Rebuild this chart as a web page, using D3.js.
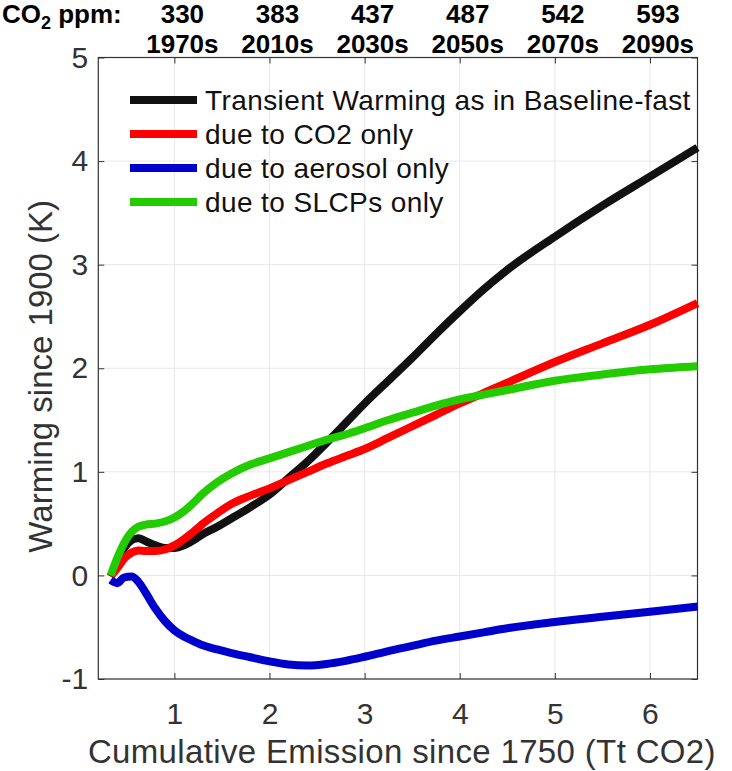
<!DOCTYPE html>
<html><head><meta charset="utf-8">
<script src="https://cdn.jsdelivr.net/npm/d3@7"></script>
<style>body{margin:0;background:#fff}svg{display:block}</style>
</head><body><svg id="c" width="732" height="771"></svg>
<script>
// ---- data ----
const emission    = [0.33,0.40,0.47,0.55,0.62,0.70,0.80,0.90,1.00,1.10,1.20,1.30,1.45,1.60,1.80,2.00,2.20,2.40,2.60,2.80,3.00,3.25,3.50,3.75,4.00,4.25,4.50,5.00,5.50,6.00,6.50];
const transient   = [-0.01,0.12,0.26,0.34,0.36,0.33,0.29,0.265,0.265,0.29,0.34,0.40,0.47,0.55,0.66,0.78,0.94,1.10,1.28,1.47,1.66,1.88,2.10,2.33,2.55,2.76,2.95,3.27,3.57,3.85,4.13];
const co2Only     = [-0.01,0.07,0.16,0.22,0.24,0.235,0.235,0.25,0.29,0.35,0.42,0.50,0.60,0.69,0.77,0.84,0.92,1.00,1.08,1.15,1.22,1.33,1.44,1.55,1.66,1.76,1.86,2.06,2.24,2.42,2.63];
const aerosolOnly = [-0.045,-0.075,-0.02,-0.01,-0.06,-0.17,-0.32,-0.44,-0.53,-0.59,-0.635,-0.675,-0.715,-0.75,-0.79,-0.83,-0.86,-0.87,-0.855,-0.825,-0.785,-0.73,-0.68,-0.63,-0.59,-0.55,-0.51,-0.45,-0.40,-0.35,-0.30];
const slcpOnly    = [0.0,0.17,0.31,0.42,0.47,0.49,0.50,0.52,0.56,0.62,0.70,0.79,0.90,0.985,1.07,1.13,1.19,1.25,1.31,1.36,1.42,1.50,1.57,1.64,1.70,1.745,1.79,1.88,1.94,1.99,2.02];
const seriesNames = ["Transient Warming as in Baseline-fast","due to CO2 only","due to aerosol only","due to SLCPs only"];
const seriesColors = ["#111111","#ff0000","#0000cc","#22cc00"];
const xTicks = [1,2,3,4,5,6];
const yTicks = [-1,0,1,2,3,4,5];
const ppmLabels = ["330","383","437","487","542","593"];
const decadeLabels = ["1970s","2010s","2030s","2050s","2070s","2090s"];
const xLabel = "Cumulative Emission since 1750 (Tt CO2)";
const yLabel = "Warming since 1900 (K)";

// ---- layout ----
const L = 98.3, R = 697.5, T = 57.5, B = 679;
const x = d3.scaleLinear([0.2, 6.5], [L, R]);
const y = d3.scaleLinear([-1, 5], [B, T]);
const svg = d3.select("#c");
const font = "'Liberation Sans', Arial, Helvetica, sans-serif";
const axisCol = "#333333";

// grid
const grid = svg.append("g").attr("stroke", "#e8e8e8").attr("stroke-width", 1);
grid.selectAll(".gx").data(xTicks).join("line")
  .attr("x1", d => x(d)).attr("x2", d => x(d)).attr("y1", T).attr("y2", B);
grid.selectAll(".gy").data(yTicks).join("line")
  .attr("x1", L).attr("x2", R).attr("y1", d => y(d)).attr("y2", d => y(d));

// axes
function styleAxis(g) {
  g.select(".domain").remove();
  g.selectAll(".tick line").attr("stroke", axisCol);
  g.selectAll(".tick text").attr("fill", axisCol).attr("font-family", font).attr("font-size", 30);
}
svg.append("g").attr("transform", `translate(0,${B})`)
  .call(d3.axisBottom(x).tickValues(xTicks).tickSizeInner(-6).tickSizeOuter(0).tickPadding(24).tickFormat(d => String(d)))
  .call(styleAxis);
svg.append("g").attr("transform", `translate(${L},0)`)
  .call(d3.axisLeft(y).tickValues(yTicks).tickSizeInner(-6).tickSizeOuter(0).tickPadding(10).tickFormat(d => String(d)))
  .call(styleAxis);
svg.append("g").attr("transform", `translate(0,${T})`)
  .call(d3.axisTop(x).tickValues(xTicks).tickSizeInner(-6).tickSizeOuter(0).tickFormat(() => ""))
  .call(styleAxis);
svg.append("g").attr("transform", `translate(${R},0)`)
  .call(d3.axisRight(y).tickValues(yTicks).tickSizeInner(-6).tickSizeOuter(0).tickFormat(() => ""))
  .call(styleAxis);
svg.append("rect").attr("x", L).attr("y", T).attr("width", R - L).attr("height", B - T)
  .attr("fill", "none").attr("stroke", axisCol).attr("stroke-width", 1.2);

// lines
const series = [transient, co2Only, aerosolOnly, slcpOnly];
const line = d3.line().x((d, i) => x(emission[i])).y(d => y(d)).curve(d3.curveMonotoneX);
series.forEach((s, k) => {
  svg.append("path").attr("d", line(s)).attr("fill", "none")
    .attr("stroke", seriesColors[k]).attr("stroke-width", 8).attr("stroke-linejoin", "round");
});

// legend
const leg = svg.append("g");
seriesNames.forEach((n, k) => {
  const ly = 100 + k * 34;
  leg.append("line").attr("x1", 130).attr("x2", 197).attr("y1", ly).attr("y2", ly)
    .attr("stroke", seriesColors[k]).attr("stroke-width", 8);
  leg.append("text").attr("x", 205).attr("y", ly).attr("dy", "0.36em")
    .attr("font-family", font).attr("font-size", 28).attr("letter-spacing", 0.4).attr("fill", "#111").text(n);
});

// axis labels
svg.append("text").attr("x", (L + R) / 2 + 4).attr("y", 763).attr("text-anchor", "middle")
  .attr("font-family", font).attr("font-size", 33).attr("letter-spacing", 0.35).attr("fill", axisCol).text(xLabel);
svg.append("text").attr("transform", `translate(52,${(T + B) / 2 + 8}) rotate(-90)`).attr("text-anchor", "middle")
  .attr("font-family", font).attr("font-size", 33).attr("fill", axisCol).text(yLabel);

// top labels
const topG = svg.append("g").attr("font-family", font).attr("font-weight", "bold").attr("font-size", 26).attr("fill", "#000");
const co2 = topG.append("text").attr("x", 2).attr("y", 23);
co2.append("tspan").text("CO");
co2.append("tspan").attr("font-size", 18).attr("dy", 6).text("2");
co2.append("tspan").attr("dy", -6).text(" ppm:");
topG.selectAll(".ppm").data(xTicks).join("text").attr("class", "ppm").attr("text-anchor", "middle")
  .attr("x", d => x(d) + 8).attr("y", 23).text((d, i) => ppmLabels[i]);
topG.selectAll(".dec").data(xTicks).join("text").attr("class", "dec").attr("text-anchor", "middle")
  .attr("x", d => x(d) + 8).attr("y", 53).text((d, i) => decadeLabels[i]);
</script></body></html>
